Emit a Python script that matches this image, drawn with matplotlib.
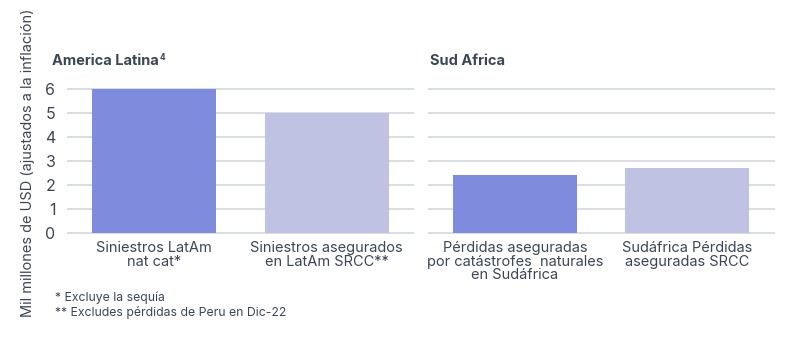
import matplotlib
matplotlib.use("Agg")
import matplotlib.pyplot as plt

plt.rcParams['font.family'] = ['Inter', 'DejaVu Sans']

# datos
latam_labels = ['Siniestros LatAm\nnat cat*', 'Siniestros asegurados\nen LatAm SRCC**']
latam_values = [6.0, 5.0]
sa_labels = ['Pérdidas aseguradas\npor catástrofes  naturales\nen Sudáfrica', 'Sudáfrica Pérdidas\naseguradas SRCC']
sa_values = [2.4, 2.7]
yticks = [0, 1, 2, 3, 4, 5, 6]

bar_colors = ['#7f8bdd', '#bfc2e3']
TXT = '#3b4758'
GRID = '#d9dde2'

fig = plt.figure(figsize=(8, 3.51), dpi=100)
ax1 = fig.add_axes([0.085, 0.3362, 0.431, 0.4102])
ax2 = fig.add_axes([0.536, 0.3362, 0.431, 0.4102])

titles = []
for ax, labels, vals, title, tx in [(ax1, latam_labels, latam_values, 'America Latina', -0.5 - 16/172),
                                    (ax2, sa_labels, sa_values, 'Sud Africa', -0.5 + 1/172)]:
    ax.set_ylim(0, 6)
    ax.set_xlim(-0.5, 1.5)
    ax.set_yticks(yticks)
    ax.yaxis.grid(True, color=GRID, linewidth=1.4, clip_on=False)
    ax.set_axisbelow(True)
    for s in ax.spines.values():
        s.set_visible(False)
    ax.bar(range(len(vals)), vals, width=0.72, color=bar_colors, zorder=3)
    ax.set_xticks(range(len(vals)))
    ax.set_xticklabels(labels, fontsize=10.5, color=TXT, linespacing=0.95)
    ax.tick_params(axis='both', length=0, pad=6, labelcolor=TXT)
    ax.tick_params(axis='y', labelsize=11.5, pad=9)
    t = ax.text(tx, 7.15, title, fontsize=10.5, fontweight='bold', color=TXT,
                ha='left', va='center')
    titles.append(t)

# superindice pequeño tras el titulo
fig.canvas.draw()
bb = titles[0].get_window_extent()
fig.text((bb.x1 + 1) / fig.dpi / 8, (bb.y1 + 1) / fig.dpi / 3.51, '4', fontsize=6,
         color=TXT, ha='left', va='top', fontweight='bold')

ax2.set_yticklabels([])
ax1.set_ylabel('Mil millones de USD (ajustados a la inflación)', fontsize=10.5, color=TXT)
ax1.yaxis.set_label_coords(-0.095, 0.49)

fig.text(0.069, 0.153, '* Excluye la sequía', fontsize=8.8, color=TXT, va='center')
fig.text(0.069, 0.11, '** Excludes pérdidas de Peru en Dic-22', fontsize=8.8, color=TXT, va='center')

fig.savefig('out.png', dpi=100, facecolor='white')
